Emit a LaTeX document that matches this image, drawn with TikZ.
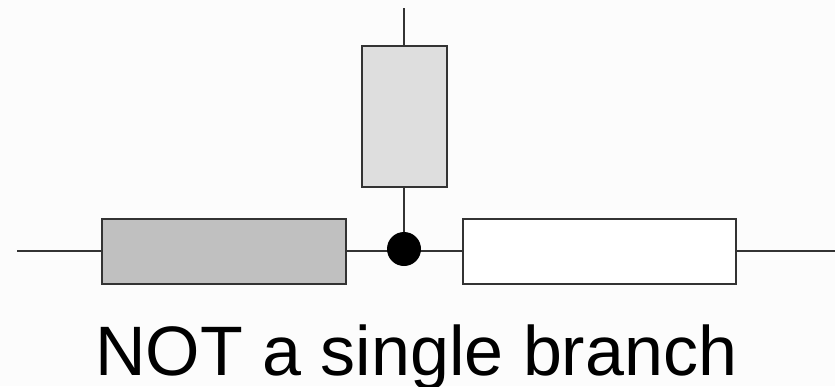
\documentclass[tikz,border=0pt]{standalone}
\usepackage{fontspec}
\setmainfont{Liberation Sans}
\definecolor{wire}{HTML}{333333}
\definecolor{darkfill}{HTML}{C0C0C0}
\definecolor{lightfill}{HTML}{DEDEDE}
\tikzset{
  wireline/.style={draw=wire, line width=1.8pt},
  elem/.style={draw=wire, line width=2pt, rectangle, inner sep=0pt},
  junction/.style={circle, fill=black, minimum size=34pt, inner sep=0pt},
}
\begin{document}
\begin{tikzpicture}[x=1pt, y=-1pt]
  \fill[white!99!black] (0,0) rectangle (835,386);
  \useasboundingbox (0,0) rectangle (835,386);
  % terminals
  \coordinate (lt) at (17,251);
  \coordinate (rt) at (835,251);
  \coordinate (tt) at (404,8);
  % elements
  \node[elem, fill=darkfill, minimum width=244pt, minimum height=65pt] (r1) at (224,251) {};
  \node[elem, fill=white, minimum width=273pt, minimum height=65pt] (r2) at (599.5,251) {};
  \node[elem, fill=lightfill, minimum width=85pt, minimum height=141pt] (r3) at (404,116.5) {};
  \coordinate (j) at (404,251);
  % wires
  \draw[wireline] (lt) -- (r1.west);
  \draw[wireline] (r1.east) -- (j) -- (r2.west);
  \draw[wireline] (r2.east) -- (rt);
  \draw[wireline] (tt) -- (r3.north);
  \draw[wireline] (r3.south) -- (j);
  \node[junction] (dot) at (404,249) {};
  % caption
  \node[anchor=base west, inner sep=0pt, font=\fontsize{70}{80}\selectfont] (cap) at (95,375) {NOT a single branch};
\end{tikzpicture}
\end{document}
